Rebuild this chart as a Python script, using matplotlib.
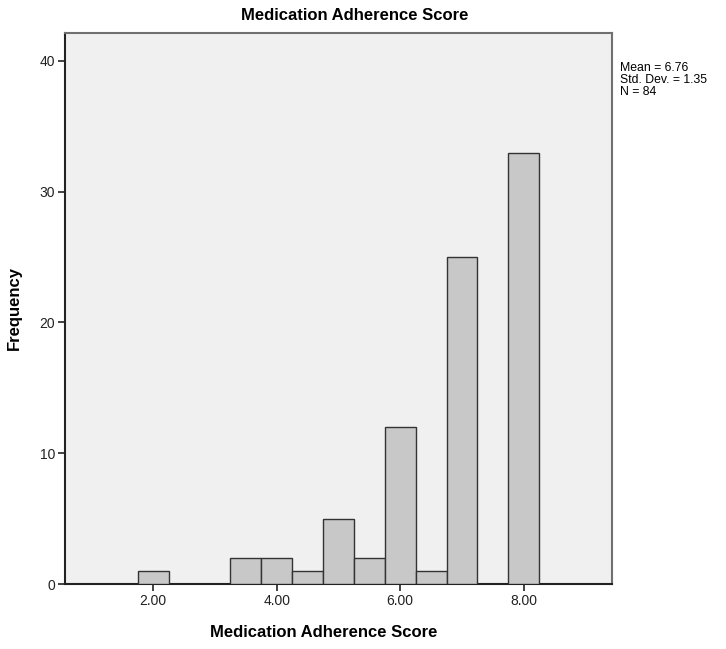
import numpy as np
import matplotlib as mpl
import matplotlib.pyplot as plt

mpl.rcParams['font.family'] = ['Liberation Sans', 'DejaVu Sans']

# histogram bins (centre of each bar) and counts
bin_centers = [2.0, 3.5, 4.0, 4.5, 5.0, 5.5, 6.0, 6.5, 7.0, 8.0]
counts = [1, 2, 2, 1, 5, 2, 12, 1, 25, 33]
bin_width = 0.5

x_ticks = [2.0, 4.0, 6.0, 8.0]
x_tick_labels = ['2.00', '4.00', '6.00', '8.00']
y_ticks = [0, 10, 20, 30, 40]

stats_text = 'Mean = 6.76\nStd. Dev. = 1.35\nN = 84'
title = 'Medication Adherence Score'

fig = plt.figure(figsize=(7.26, 6.49), dpi=100)
ax = fig.add_axes((65/726, 1 - 584/649, (612 - 65)/726, (584 - 33)/649))
ax.set_facecolor('#f0f0f0')

ax.bar(bin_centers, counts, width=bin_width, color='#c8c8c8',
       edgecolor='#333333', linewidth=1.0, zorder=3)

ax.set_xlim(0.57, 9.43)
ax.set_ylim(0, 42.14)
ax.set_xticks(x_ticks)
ax.set_xticklabels(x_tick_labels)
ax.set_yticks(y_ticks)
ax.tick_params(direction='out', length=5, width=1.2, labelsize=10, colors='#222222', pad=2)

for side in ['left', 'bottom']:
    ax.spines[side].set_color('#222222')
    ax.spines[side].set_linewidth(1.5)
for side in ['top', 'right']:
    ax.spines[side].set_color('#707070')
    ax.spines[side].set_linewidth(1.5)

ax.set_xlabel('Medication Adherence Score', fontsize=12, fontweight='bold')
ax.xaxis.set_label_coords((324 - 65)/547, -0.075)
ax.set_ylabel('Frequency', fontsize=12, fontweight='bold')
ax.yaxis.set_label_coords(-0.078, (584 - 308)/551)

fig.text(355/726, 1 - 16/649, title, fontsize=12, fontweight='bold',
         ha='center', va='center')
fig.text(620/726, 1 - 62/649, stats_text, fontsize=8.8, ha='left', va='top',
         linespacing=1.0)

fig.savefig('out.png', dpi=100)
